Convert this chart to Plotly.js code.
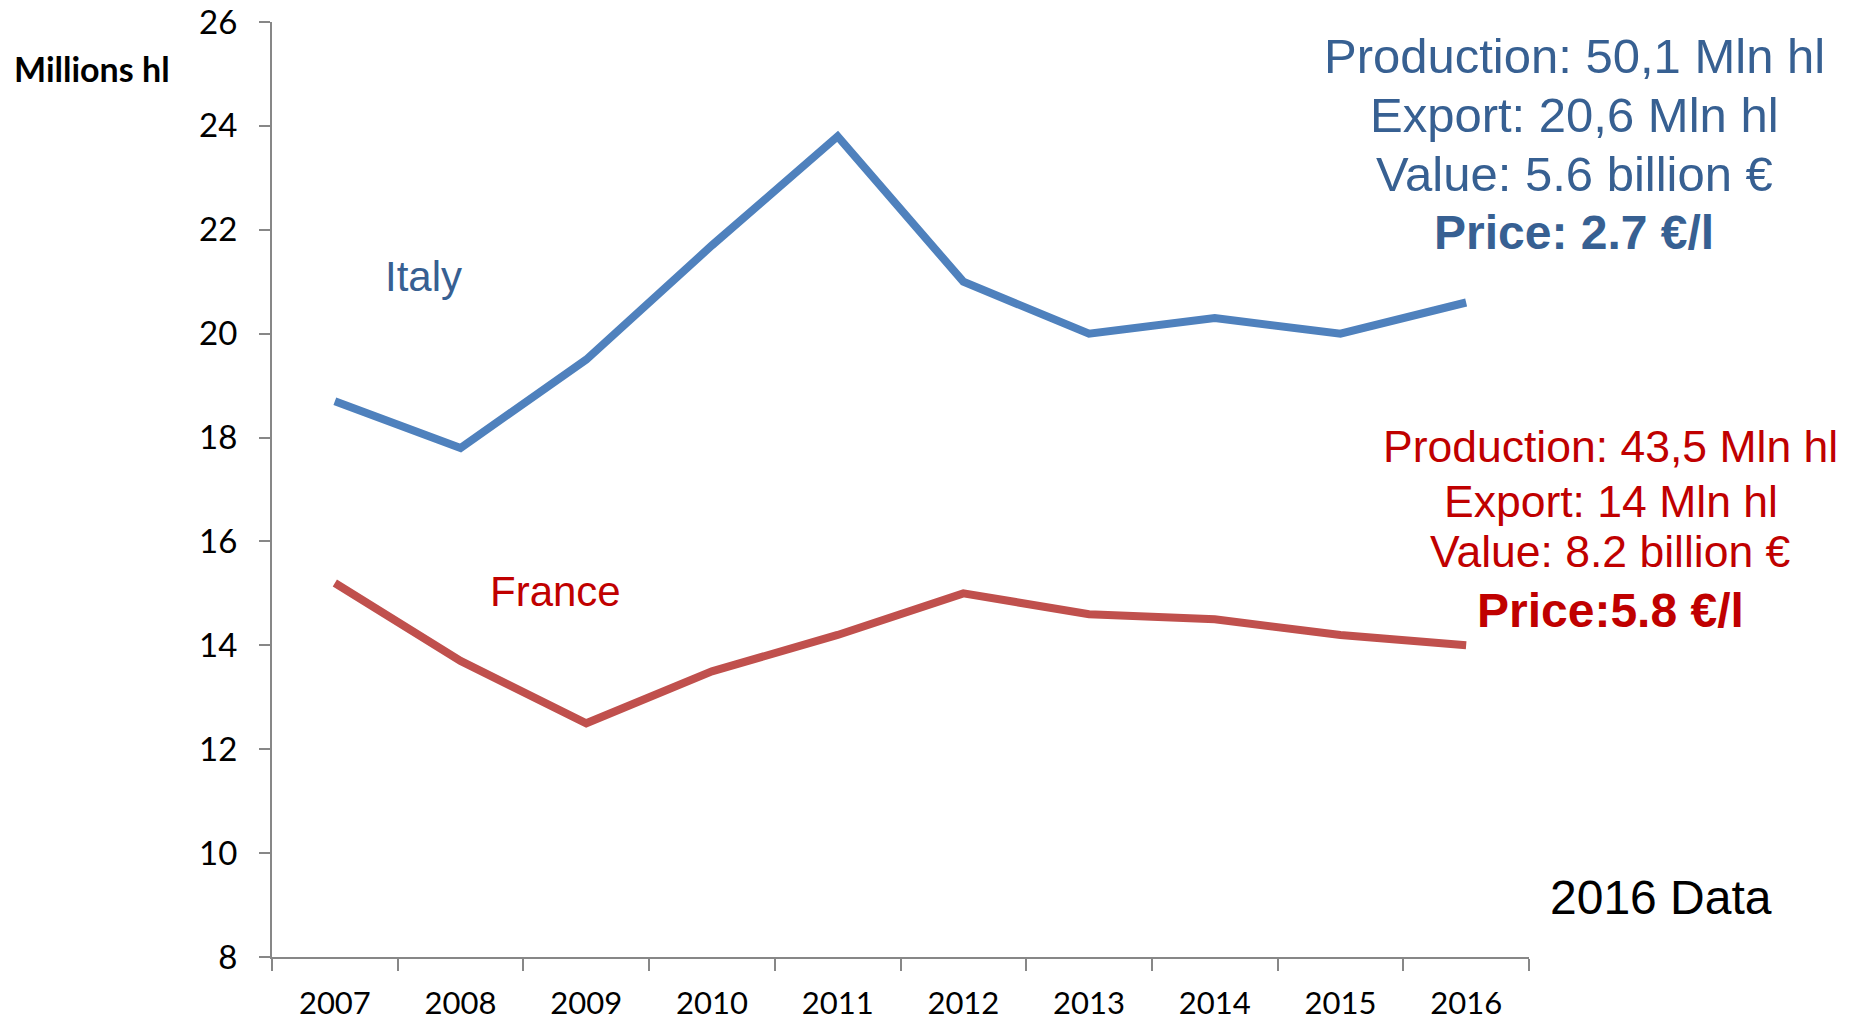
<!DOCTYPE html>
<html>
<head>
<meta charset="utf-8">
<script src="https://cdn.plot.ly/plotly-3.0.1.min.js"></script>
<style>
  html, body { margin: 0; padding: 0; background: #ffffff; }
  #chart { width: 1858px; height: 1021px; }
</style>
</head>
<body>
<div id="chart"></div>
<script>
// ---- data ----
const years = ["2007", "2008", "2009", "2010", "2011", "2012", "2013", "2014", "2015", "2016"];
const italy = [18.7, 17.8, 19.5, 21.7, 23.8, 21.0, 20.0, 20.3, 20.0, 20.6];
const france = [15.2, 13.7, 12.5, 13.5, 14.2, 15.0, 14.6, 14.5, 14.2, 14.0];
const yTicks = [8, 10, 12, 14, 16, 18, 20, 22, 24, 26];

const yAxisLabel = "Millions hl";
const italyLabel = "Italy";
const franceLabel = "France";
const italyInfo = ["Production: 50,1 Mln hl", "Export: 20,6 Mln hl", "Value: 5.6 billion €", "<b>Price: 2.7 €/l</b>"];
const franceInfo = ["Production: 43,5 Mln hl", "Export: 14 Mln hl", "Value: 8.2 billion €", "<b>Price:5.8 €/l</b>"];
const noteText = "2016 Data";

// ---- styles ----
const lineBlue = "#4F81BD";
const lineRed = "#C0504D";
const textBlue = "#376092";
const textRed = "#C00000";
const axisGrey = "#878787";
const arial = "Liberation Sans, Arial, sans-serif";
const tickFont = "Lato, Carlito, Calibri, sans-serif";

const traces = [
  { x: years, y: italy, type: "scatter", mode: "lines", name: "Italy",
    line: { color: lineBlue, width: 8 }, hoverinfo: "x+y" },
  { x: years, y: france, type: "scatter", mode: "lines", name: "France",
    line: { color: lineRed, width: 8 }, hoverinfo: "x+y" }
];

const annotations = [];
function addText(text, x, y, size, color, family, xanchor) {
  annotations.push({ xref: "paper", yref: "paper", x: x, y: y, text: text,
    showarrow: false, xanchor: xanchor || "center", yanchor: "middle",
    font: { size: size, color: color, family: family } });
}
addText("<b>" + yAxisLabel + "</b>", -0.2072, 0.9503, 34, "#000000", tickFont, "left");
addText(italyLabel, 0.1209, 0.7273, 42, textBlue, arial);
addText(franceLabel, 0.2259, 0.3914, 42, textRed, arial);
const blueY = [0.9641, 0.9005, 0.8378, 0.7754];
const blueSize = [49, 49, 49, 48];
italyInfo.forEach((t, i) => addText(t, 1.0358, blueY[i], blueSize[i], textBlue, arial));
const redY = [0.5455, 0.4877, 0.4332, 0.3711];
const redSize = [44.5, 44.5, 44.5, 48];
franceInfo.forEach((t, i) => addText(t, 1.0652, redY[i], redSize[i], textRed, arial));
addText(noteText, 1.105, 0.0636, 48, "#000000", arial);

const layout = {
  width: 1858, height: 1021,
  margin: { l: 272, r: 329, t: 22, b: 64, pad: 0 },
  paper_bgcolor: "#ffffff", plot_bgcolor: "#ffffff",
  showlegend: false,
  xaxis: {
    type: "category", range: [-0.5, 9.5], tickson: "boundaries",
    ticks: "outside", ticklen: 12, tickwidth: 2, tickcolor: axisGrey,
    showline: true, linecolor: axisGrey, linewidth: 2,
    showgrid: false, zeroline: false,
    tickfont: { family: tickFont, size: 31, color: "#000000" },
    ticklabelstandoff: 18
  },
  yaxis: {
    range: [8, 26], tickvals: yTicks, ticktext: yTicks.map(String),
    ticks: "outside", ticklen: 11, tickwidth: 2, tickcolor: axisGrey,
    showline: true, linecolor: axisGrey, linewidth: 2,
    showgrid: false, zeroline: false,
    tickfont: { family: tickFont, size: 33, color: "#000000" },
    ticklabelstandoff: 15
  },
  annotations: annotations
};

Plotly.newPlot("chart", traces, layout, { displayModeBar: false, staticPlot: true });
</script>
</body>
</html>
